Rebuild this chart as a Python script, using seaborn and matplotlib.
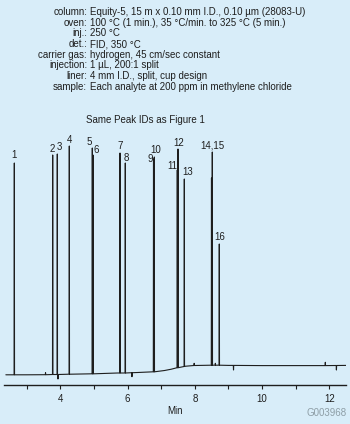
import numpy as np
import pandas as pd
import matplotlib
matplotlib.use("Agg")
import matplotlib.pyplot as plt
from matplotlib.ticker import FixedLocator
import seaborn as sns

# ---------------- data ----------------
cond_keys = ["column:", "oven:", "inj.:", "det.:", "carrier gas:", "injection:", "liner:", "sample:"]
cond_vals = [
    "Equity-5, 15 m x 0.10 mm I.D., 0.10 µm (28083-U)",
    "100 °C (1 min.), 35 °C/min. to 325 °C (5 min.)",
    "250 °C",
    "FID, 350 °C",
    "hydrogen, 45 cm/sec constant",
    "1 µL, 200:1 split",
    "4 mm I.D., split, cup design",
    "Each analyte at 200 ppm in methylene chloride",
]
subtitle = "Same Peak IDs as Figure 1"

# baseline (min, signal)
base_t = [2.38, 3.0, 3.6, 4.3, 5.0, 5.7, 6.3, 6.8, 7.1, 7.3, 7.5, 7.7, 8.0, 8.5, 9.0, 10.0, 11.0, 12.5]
base_y = [0.2, 0.2, 0.3, 0.8, 1.2, 2.0, 2.5, 3.2, 4.5, 5.8, 7.5, 8.7, 9.5, 9.8, 9.6, 9.4, 9.4, 9.6]

# peaks: retention time (min), apex signal, foot signal
peak_t = [2.632, 3.773, 3.910, 4.267, 4.951, 4.972, 5.775, 5.932,
          6.771, 6.795, 7.478, 7.499, 7.687, 8.495, 8.519, 8.727]
peak_h = [212, 220, 221, 229, 227, 220, 222, 212,
          216, 218, 205, 226, 196, 197, 223, 131]
peak_foot = [0.2, 0.5, 0.5, 0.8, 1.2, 1.2, 2.0, 2.0,
             3.2, 3.2, 7.3, 7.3, 8.5, 9.8, 9.8, 9.8]
peak_labels = ["1", "2", "3", "4", "5", "6", "7", "8",
               "9", "10", "11", "12", "13", "", "14,15", "16"]

# small baseline disturbances: time, value, foot
spike_t = [3.56, 3.93, 6.13, 7.98, 8.61, 9.15, 11.88, 12.21]
spike_h = [2.3, -4.0, -1.7, 11.7, 11.7, 5.0, 12.7, 5.0]
spike_foot = [0.3, 0.5, 2.3, 9.5, 9.8, 9.6, 9.4, 9.5]

x_major = [4, 6, 8, 10, 12]
x_minor = [3, 5, 7, 9, 11]
x_label = "Min"
code = "G003968"

# ---------------- build trace ----------------
hw = 0.006
rows = [(t, y) for t, y in zip(base_t, base_y)]
for t, h, f in list(zip(peak_t, peak_h, peak_foot)) + list(zip(spike_t, spike_h, spike_foot)):
    rows += [(t - hw, f), (t, h), (t + hw, f)]
trace = pd.DataFrame(rows, columns=["t", "signal"]).sort_values("t", kind="mergesort").reset_index(drop=True)

# ---------------- style ----------------
BG = "#d8edf9"
INK = "#1e1e1e"
sns.set_theme(style="white")
plt.rcParams["font.family"] = ["Liberation Sans", "DejaVu Sans"]
plt.rcParams["figure.facecolor"] = BG
plt.rcParams["axes.facecolor"] = BG

fig = plt.figure(figsize=(3.5, 4.24), dpi=100)
W, H = 350, 424
ax_left, ax_right, ax_bot, ax_top = 4, 345.5, 385, 130
ax = fig.add_axes([ax_left / W, 1 - ax_bot / H, (ax_right - ax_left) / W, (ax_bot - ax_top) / H])

sns.lineplot(data=trace, x="t", y="signal", estimator=None, sort=False,
             color=INK, linewidth=0.8, ax=ax)

ax.set_xlim(2.325, 12.48)
ax.set_ylim(-10, 245)

for side in ["left", "right", "top"]:
    ax.spines[side].set_visible(False)
ax.spines["bottom"].set_color(INK)
ax.spines["bottom"].set_linewidth(1.0)
ax.set_yticks([])
ax.xaxis.set_major_locator(FixedLocator(x_major))
ax.xaxis.set_minor_locator(FixedLocator(x_minor))
ax.set_xticklabels([str(v) for v in x_major])
ax.tick_params(axis="x", which="both", direction="out", length=3.2, width=0.8,
               color=INK, bottom=True, labelsize=7, labelcolor=INK, pad=3.5)
ax.set_xlabel("")
ax.set_ylabel("")

# peak labels
offsets = {"1": (0, 7.7), "2": (-0.7, 6), "3": (1.6, 6.7), "4": (0, 5.7),
           "5": (-3.3, 6.3), "6": (3.5, 4.7), "7": (0.3, 7), "8": (1.2, 5.4),
           "9": (-3.4, 0.5), "10": (1.6, 7.4), "11": (-5.3, 4), "12": (0.3, 6.3),
           "13": (3.6, 6.6), "14,15": (0.3, 6.4), "16": (0, 6.7)}
for t, h, lab in zip(peak_t, peak_h, peak_labels):
    if not lab:
        continue
    dx, dy = offsets[lab]
    ax.annotate(lab, xy=(t, h), xytext=(dx, dy), textcoords="offset pixels",
                ha="center", va="center", fontsize=7, color=INK)

# header text
for i, (k, v) in enumerate(zip(cond_keys, cond_vals)):
    yy = 1 - (12 + i * 10.67) / H
    fig.text(87 / W, yy, k, ha="right", va="center", fontsize=7, color=INK)
    fig.text(90 / W, yy, v, ha="left", va="center", fontsize=7, color=INK)

fig.text(145.7 / W, 1 - 120 / H, subtitle, ha="center", va="center", fontsize=7, color=INK)
fig.text(175 / W, 1 - 410.7 / H, x_label, ha="center", va="center", fontsize=7, color=INK)
fig.text(347 / W, 1 - 413.3 / H, code, ha="right", va="center", fontsize=7, color="#8e9ea6")

fig.savefig("out.png", dpi=100, facecolor=BG)
